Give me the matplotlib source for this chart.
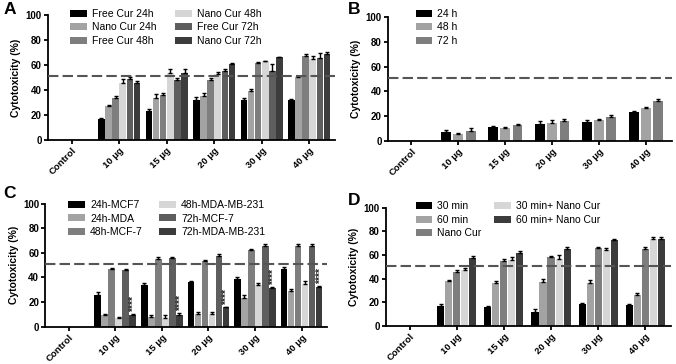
import numpy as np
import matplotlib
matplotlib.use('Agg')
import matplotlib.pyplot as plt

plt.rcParams['font.family'] = ['Liberation Sans', 'DejaVu Sans']

#data
categories = ['Control', '10 μg', '15 μg', '20 μg', '30 μg', '40 μg']

# panel A
labels_a = ['Free Cur 24h', 'Nano Cur 24h', 'Free Cur 48h', 'Nano Cur 48h', 'Free Cur 72h', 'Nano Cur 72h']
free24 = [0, 17, 23.5, 32, 32, 32]
nano24 = [0, 27, 34, 35, 39.5, 50.5]
free48 = [0, 34, 36, 48, 62, 67]
nano48 = [0, 46, 54, 53, 63, 65]
free72 = [0, 49, 48, 55, 55.5, 65.5]
nano72 = [0, 46, 53.5, 60.5, 66, 69]
err_free24 = [0, 1, 1, 2.5, 1.5, 1]
err_nano24 = [0, 0.7, 2.5, 2.5, 1, 1]
err_free48 = [0, 1, 1.5, 1.5, 0.7, 1.5]
err_nano48 = [0, 2.5, 3, 1.5, 0.5, 2]
err_free72 = [0, 1.8, 1.5, 2, 5, 4]
err_nano72 = [0, 1.5, 3.5, 1, 0.7, 1.5]

# panel B
labels_b = ['24 h', '48 h', '72 h']
b24 = [0, 7, 11.5, 14, 15.5, 23.5]
b48 = [0, 5.5, 10.5, 14.5, 16.5, 26.5]
b72 = [0, 8, 12.5, 16, 19.5, 32]
err_b24 = [0, 1.5, 0.8, 2, 1, 0.8]
err_b48 = [0, 1, 1, 2.5, 1, 1]
err_b72 = [0, 2, 0.8, 2, 1, 1.5]

# panel C
labels_c = ['24h-MCF7', '24h-MDA', '48h-MCF-7', '48h-MDA-MB-231', '72h-MCF-7', '72h-MDA-MB-231']
mcf24 = [0, 26, 34, 36, 39, 47]
mda24 = [0, 9, 8, 10, 23.5, 29]
mcf48 = [0, 47, 55, 53, 62.5, 66]
mda48 = [0, 7, 7, 10.5, 34, 35]
mcf72 = [0, 46, 55.5, 57.5, 65.5, 66]
mda72 = [0, 9.5, 9.5, 15.5, 31, 32]
err_mcf24 = [0, 2, 1.5, 1.5, 1, 1.5]
err_mda24 = [0, 1.5, 1, 1.5, 2, 1.5]
err_mcf48 = [0, 1, 1.5, 1.5, 1, 1]
err_mda48 = [0, 1, 2.5, 1.5, 1.5, 2]
err_mcf72 = [0, 1.2, 1, 1.5, 2, 1]
err_mda72 = [0, 0.7, 1.5, 0.7, 1.5, 1]
stars_c = ['', '****', '****', '****', '****', '****']

# panel D
labels_d = ['30 min', '60 min', 'Nano Cur', '30 min+ Nano Cur', '60 min+ Nano Cur']
min30 = [0, 17, 16, 12, 18.5, 18]
min60 = [0, 38, 36.5, 37.5, 36.5, 26.5]
nanocur = [0, 46, 55, 58, 66, 65.5]
min30_nano = [0, 47, 55.5, 57, 64.5, 73.5]
min60_nano = [0, 57.5, 61.5, 65, 72.5, 74]
err_min30 = [0, 1.5, 1, 2, 1, 0.5]
err_min60 = [0, 0.7, 1.5, 2, 2, 1]
err_nanocur = [0, 1.5, 1.5, 1.5, 1, 1.5]
err_min30_nano = [0, 2, 3, 3, 1.5, 2]
err_min60_nano = [0, 2, 2, 1.5, 1.5, 1.5]

cutoff = 51

#Code starts here
c6 = ['#000000', '#a3a3a3', '#7e7e7e', '#d6d6d6', '#5e5e5e', '#3c3c3c']
c3 = ['#000000', '#a3a3a3', '#7e7e7e']
c5 = ['#000000', '#a3a3a3', '#7e7e7e', '#d6d6d6', '#3c3c3c']

fig = plt.figure(figsize=(6.76, 3.64), dpi=100)


def panel(rect, series, errs, labels, colors, step, width, letter, letter_pos, leg_pos, ncol, colspace):
    ax = fig.add_axes(rect)
    x = np.arange(len(categories))
    n = len(series)
    for i in range(n):
        pos = x + (i - (n - 1) / 2) * step
        vals = np.array(series[i], dtype=float)
        ax.bar(pos, vals, width=width, color=colors[i], label=labels[i], zorder=2)
        e = np.array(errs[i], dtype=float)
        m = vals > 0
        ax.errorbar(pos[m], vals[m], yerr=[np.zeros(m.sum()), e[m]], fmt='none',
                    ecolor='black', elinewidth=1, capsize=1.5, capthick=1, zorder=3)
    ax.axhline(cutoff, color='#555555', lw=1.5, dashes=(5, 2), zorder=4)
    ax.set_ylim(0, 100)
    ax.set_xlim(-0.5, 5.55)
    ax.set_yticks([0, 20, 40, 60, 80, 100])
    ax.set_xticks(x)
    ax.set_xticklabels(categories, rotation=45, ha='right', rotation_mode='anchor',
                       fontsize=6.8, fontweight='bold')
    for t in ax.get_yticklabels():
        t.set_fontsize(7)
        t.set_fontweight('bold')
    ax.set_ylabel('Cytotoxicity (%)', fontsize=7.5, fontweight='bold', labelpad=3)
    for s in ['top', 'right']:
        ax.spines[s].set_visible(False)
    for s in ['left', 'bottom']:
        ax.spines[s].set_linewidth(1.3)
    ax.tick_params(width=1.3, length=3, pad=1.5)
    ax.legend(loc='upper left', bbox_to_anchor=leg_pos, bbox_transform=fig.transFigure,
              ncol=ncol, frameon=False, fontsize=7.5, handlelength=1.6, handleheight=0.65,
              handletextpad=0.5, labelspacing=0.35, columnspacing=colspace, borderpad=0)
    fig.text(letter_pos[0], letter_pos[1], letter, fontsize=12.5, fontweight='bold',
             va='top', ha='left')
    return ax


ax_a = panel([0.071, 0.615, 0.425, 0.344],
             [free24, nano24, free48, nano48, free72, nano72],
             [err_free24, err_nano24, err_free48, err_nano48, err_free72, err_nano72],
             labels_a, c6, 0.15, 0.14, 'A', (0.005, 0.995), (0.096, 0.99), 2, 1.8)

ax_b = panel([0.574, 0.613, 0.42, 0.34],
             [b24, b48, b72], [err_b24, err_b48, err_b72],
             labels_b, c3, 0.26, 0.21, 'B', (0.515, 0.995), (0.607, 0.99), 1, 1.8)

ax_c = panel([0.067, 0.103, 0.417, 0.337],
             [mcf24, mda24, mcf48, mda48, mcf72, mda72],
             [err_mcf24, err_mda24, err_mcf48, err_mda48, err_mcf72, err_mda72],
             labels_c, c6, 0.15, 0.14, 'C', (0.005, 0.49), (0.093, 0.465), 2, 1.6)

ax_d = panel([0.571, 0.105, 0.422, 0.324],
             [min30, min60, nanocur, min30_nano, min60_nano],
             [err_min30, err_min60, err_nanocur, err_min30_nano, err_min60_nano],
             labels_d, c5, 0.17, 0.15, 'D', (0.515, 0.47), (0.607, 0.462), 2, 1.2)

# significance stars on the 72h-MDA-MB-231 bars
xc = np.arange(len(categories)) + 2.5 * 0.15
for i in range(len(categories)):
    if stars_c[i]:
        ax_c.text(xc[i] + 0.03, mda72[i] + err_mda72[i] + 1.5, stars_c[i], rotation=90,
                  ha='center', va='bottom', fontsize=7.5, fontweight='bold', color='#222222')

plt.savefig('out.png', dpi=100)
